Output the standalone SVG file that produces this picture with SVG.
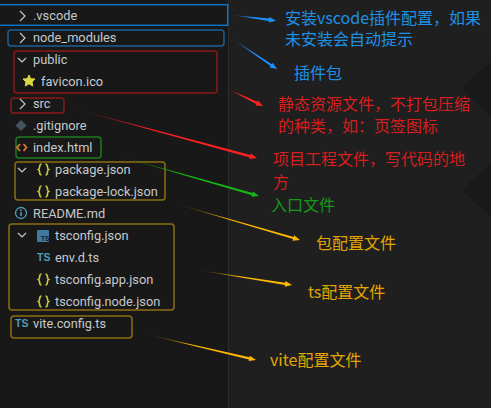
<svg xmlns="http://www.w3.org/2000/svg" width="491" height="408" viewBox="0 0 491 408">
<style>
.f{font-family:"Roboto","Noto Sans","Liberation Sans",sans-serif;font-size:12.800px;fill:#c4c8cc}
.n{font-family:"Noto Sans CJK SC","Noto Sans",sans-serif;font-size:16px}
.box{fill:none;stroke-width:1.500}
.bl{fill:#1e90e6}.rd{fill:#d81e1e}.gr{fill:#169a16}.yl{fill:#e3a600}
.ic{font-family:"Liberation Sans",sans-serif;font-weight:700;font-size:10.500px;fill:#519aba}
.chev{fill:none;stroke:#c4c8cc;stroke-width:1.200}
</style>
<defs>
<linearGradient id="gb"><stop offset="0" stop-color="#1e90ff" stop-opacity="0"/><stop offset=".45" stop-color="#1e90ff"/></linearGradient>
<linearGradient id="gr"><stop offset="0" stop-color="#ff2020" stop-opacity="0"/><stop offset=".45" stop-color="#ff2020"/></linearGradient>
<linearGradient id="gg"><stop offset="0" stop-color="#14b814" stop-opacity="0"/><stop offset=".45" stop-color="#14b814"/></linearGradient>
<linearGradient id="gy"><stop offset="0" stop-color="#ffb800" stop-opacity="0"/><stop offset=".45" stop-color="#ffb800"/></linearGradient>
<path id="brace" d="M3 0C0 0 2 4.500 0 5.500 2 6.500 0 11 3 11M7 0C10 0 8 4.500 10 5.500 8 6.500 10 11 7 11" fill="none" stroke="#c3c93f" stroke-width="1.700"/>
</defs>
<rect width="491" height="408" fill="#1f1f1f"/>
<rect width="228" height="408" fill="#181818"/>
<rect x="228" width="1" height="408" fill="#2b2b2b"/>
<path d="M491 61L466 84Q462 88 466 92L491 118ZM491 163L466 186Q462 190 466 194L491 217Z" fill="#191919"/>
<g id="tree-vscode"><rect class="box" x="-2" y="4.700" width="229.700" height="20.600" stroke="#0a74c8"/><path class="chev" d="M20 11l5 5-5 5"/><text class="f" x="33" y="20">.vscode</text></g>
<g id="tree-node-modules"><rect class="box" x="8" y="30" width="216" height="16" rx="3" stroke="#1c5f96"/><path class="chev" d="M20 33l5 5-5 5"/><text class="f" x="33" y="42">node_modules</text></g>
<g id="tree-public"><rect class="box" x="14" y="51" width="203" height="42" rx="3" stroke="#8b1a1a"/><path class="chev" d="M18 58l4 4 4-4"/><text class="f" x="33" y="64">public</text><path d="M29 75L30.600 78.700 35 79 32 81.900 32.800 86 29 83.800 25.200 86 26 81.900 23 79 27.400 78.700z" fill="#d8d840" stroke="#d8d840" stroke-linejoin="round"/><text class="f" x="41" y="86">favicon.ico</text></g>
<g id="tree-src"><rect class="box" x="11" y="98" width="53" height="15" rx="3" stroke="#8b1a1a"/><path class="chev" d="M20 99l5 5-5 5"/><text class="f" x="33" y="108">src</text></g>
<g id="tree-gitignore"><path d="M21 120l5.500 5.500-5.500 5.500-5.500-5.500z" fill="#41535b"/><text class="f" x="33" y="130">.gitignore</text></g>
<g id="tree-index"><rect class="box" x="16" y="137" width="85" height="21" rx="3" stroke="#1e7a1e"/><path d="M20 144l-3 3.500 3 3.500M23.500 144l3 3.500-3 3.500" fill="none" stroke="#e37933" stroke-width="1.700"/><text class="f" x="33" y="152">index.html</text></g>
<g id="tree-package"><rect class="box" x="15" y="162" width="150" height="38" rx="3" stroke="#8a6d10"/><path class="chev" d="M18 168l4 4 4-4"/><use href="#brace" x="38.500" y="164"/><text class="f" x="55" y="174">package.json</text><use href="#brace" x="38.500" y="186"/><text class="f" x="55" y="196">package-lock.json</text></g>
<g id="tree-readme"><circle cx="21" cy="213" r="5.500" fill="none" stroke="#519aba" stroke-width="1.300"/><rect x="20.200" y="212" width="1.600" height="4" fill="#519aba"/><rect x="20.200" y="209.500" width="1.600" height="1.500" fill="#519aba"/><text class="f" x="33" y="218">README.md</text></g>
<g id="tree-tsconfig"><rect class="box" x="9" y="224" width="165" height="86" rx="3" stroke="#8a6d10"/><path class="chev" d="M18 233l4 4 4-4"/><rect x="37" y="230" width="12" height="12" rx="1" fill="#3f7ba0"/><text x="41" y="240.500" font-family="Liberation Sans,sans-serif" font-size="6.500" font-weight="700" fill="#181818">TS</text><text class="f" x="55" y="240">tsconfig.json</text><text class="ic" x="37" y="261">TS</text><text class="f" x="55" y="262">env.d.ts</text><use href="#brace" x="38.500" y="274"/><text class="f" x="55" y="284">tsconfig.app.json</text><use href="#brace" x="38.500" y="296"/><text class="f" x="55" y="306">tsconfig.node.json</text></g>
<g id="tree-vite"><rect class="box" x="11" y="316" width="121" height="22" rx="3" stroke="#8a6d10"/><text class="ic" x="15" y="327">TS</text><text class="f" x="33" y="328">vite.config.ts</text></g>
<g id="connectors">
<polygon points="232,15 269.150,18.600 269.350,17 276,20.700 268.650,22.600 268.850,21" fill="url(#gb)"/>
<polygon points="231,38 271.800,64.200 272.800,62.800 277,69 269.600,67.400 270.600,66" fill="url(#gb)"/>
<polygon points="226,88 257.200,101.800 257.900,100.400 263,106 255.500,105.400 256.200,104" fill="url(#gr)"/>
<polygon points="68,107 250.500,155 250.900,153.500 257,158 249.500,158.900 249.900,157.400" fill="url(#gr)"/>
<polygon points="115,155 252.600,193 253.100,191.400 259,196 251.500,196.800 252,195.200" fill="url(#gg)"/>
<polygon points="173,203 293.600,236.900 294.100,235.300 300,240 292.500,240.700 293,239.100" fill="url(#gy)"/>
<polygon points="197,270 285.300,282.800 285.500,281.100 292,285 284.700,286.700 284.900,285" fill="url(#gy)"/>
<polygon points="145,334 249.500,357.300 249.800,355.700 256,360 248.600,361.100 248.900,359.500" fill="url(#gy)"/>
</g>
<g id="label-vscode"><text class="n bl" x="285" y="24">安装vscode插件配置，如果</text><text class="n bl" x="285" y="45">未安装会自动提示</text></g>
<g id="label-plugin"><text class="n bl" x="294" y="79">插件包</text></g>
<g id="label-static"><text class="n rd" x="278" y="110">静态资源文件，不打包压缩</text><text class="n rd" x="278" y="132">的种类，如：页签图标</text></g>
<g id="label-src"><text class="n rd" x="273" y="165">项目工程文件，写代码的地</text><text class="n rd" x="273" y="188">方</text></g>
<g id="label-entry"><text class="n gr" x="271" y="211">入口文件</text></g>
<g id="label-pkg"><text class="n yl" x="316" y="249">包配置文件</text></g>
<g id="label-ts"><text class="n yl" x="308" y="298">ts配置文件</text></g>
<g id="label-vite"><text class="n yl" x="270" y="366">vite配置文件</text></g>
</svg>
